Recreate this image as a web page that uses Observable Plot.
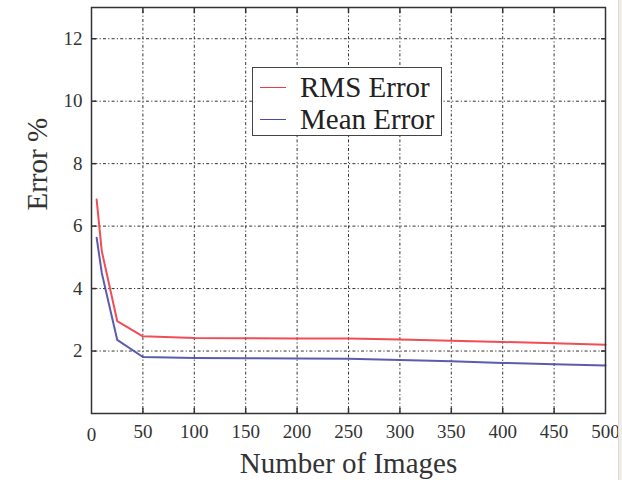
<!DOCTYPE html>
<html>
<head>
<meta charset="utf-8">
<script src="https://cdn.jsdelivr.net/npm/d3@7"></script>
<script src="https://cdn.jsdelivr.net/npm/@observablehq/plot@0.6"></script>
<style>
  body { margin: 0; background: #fff; }
  #chart { position: relative; width: 622px; height: 480px; overflow: hidden; }
  #edge { position: absolute; left: 618px; top: 0; width: 4px; height: 480px; background: #efede8; border-left: 1px solid #dcdad4; }
  .legend {
    position: absolute; left: 252px; top: 67px; width: 188px; height: 67px;
    border: 1.5px solid #444; background: #fff;
    font-family: "Liberation Serif", "Times New Roman", serif; font-size: 29px; color: #222;
  }
  .legend .row { position: absolute; left: 0; height: 32px; display: flex; align-items: center; white-space: nowrap; }
  .legend .swatch { width: 26px; height: 0; border-top: 1.5px solid; margin-left: 7px; margin-right: 14px; }
</style>
</head>
<body>
<div id="chart"><div id="edge"></div></div>
<script>
// Number of training images and the resulting error percentages
const images    = [5, 10, 25, 50, 100, 150, 200, 250, 300, 350, 400, 450, 500];
const rmsError  = [6.85, 5.2, 2.96, 2.47, 2.42, 2.41, 2.40, 2.40, 2.37, 2.33, 2.29, 2.25, 2.20];
const meanError = [5.63, 4.5, 2.36, 1.81, 1.78, 1.77, 1.76, 1.75, 1.71, 1.67, 1.62, 1.58, 1.54];

const seriesNames  = ["RMS Error", "Mean Error"];
const seriesColors = ["#ee3a44", "#4a4aa6"];

const xTickValues = [0, 50, 100, 150, 200, 250, 300, 350, 400, 450, 500];
const yTickValues = [2, 4, 6, 8, 10, 12];

const rows = images.flatMap((n, i) => [
  {n, err: rmsError[i],  series: seriesNames[0]},
  {n, err: meanError[i], series: seriesNames[1]}
]);

const innerX = xTickValues.filter(v => v > 0 && v < 500);
const gridStyle = {stroke: "#111", strokeOpacity: 0.85, strokeWidth: 1, strokeDasharray: "1.2,2.2,3,2.2"};
const tickStyle = {tickSize: -5, tickFormat: () => "", label: null, stroke: "#333", strokeWidth: 1.5};
const labelFont = {fontSize: 19, fill: "#333", label: null, tickSize: 0};

const chart = Plot.plot({
  width: 622,
  height: 480,
  marginLeft: 91,
  marginRight: 17,
  marginTop: 7,
  marginBottom: 67,
  style: {fontFamily: "Liberation Serif, Times New Roman, serif", color: "#333", background: "transparent"},
  x: {domain: [0, 500]},
  y: {domain: [0, 13]},
  color: {domain: seriesNames, range: seriesColors},
  marks: [
    Plot.gridX(innerX, gridStyle),
    Plot.gridY(yTickValues, gridStyle),
    // inward tick marks on all four sides
    Plot.axisY(yTickValues, {anchor: "left", ...tickStyle}),
    Plot.axisY(yTickValues, {anchor: "right", ...tickStyle}),
    Plot.axisX(innerX, {anchor: "bottom", ...tickStyle}),
    Plot.axisX(innerX, {anchor: "top", ...tickStyle}),
    // tick labels
    Plot.axisY(yTickValues, {anchor: "left", tickPadding: 9, ...labelFont}),
    Plot.axisX(xTickValues.filter(v => v > 0), {anchor: "bottom", tickPadding: 11, ...labelFont}),
    Plot.axisX([0], {anchor: "bottom", tickPadding: 14, ...labelFont}),
    Plot.line(rows, {x: "n", y: "err", z: "series", stroke: "series", strokeWidth: 2, strokeOpacity: 0.9}),
    Plot.frame({stroke: "#333", strokeWidth: 1.5}),
    Plot.text(["Number of Images"], {frameAnchor: "bottom", dy: 50, lineAnchor: "middle", fontSize: 29, fill: "#333"}),
    Plot.text(["Error %"], {frameAnchor: "left", dx: -54, rotate: -90, fontSize: 29, fill: "#333"})
  ]
});

const host = document.getElementById("chart");
host.insertBefore(chart, host.firstChild);

// legend box inside the plot area
const legend = document.createElement("div");
legend.className = "legend";
seriesNames.forEach((name, i) => {
  const row = document.createElement("div");
  row.className = "row";
  row.style.top = (3 + i * 32) + "px";
  const sw = document.createElement("span");
  sw.className = "swatch";
  sw.style.borderColor = seriesColors[i];
  const label = document.createElement("span");
  label.textContent = name;
  row.append(sw, label);
  legend.appendChild(row);
});
host.appendChild(legend);
</script>
</body>
</html>
